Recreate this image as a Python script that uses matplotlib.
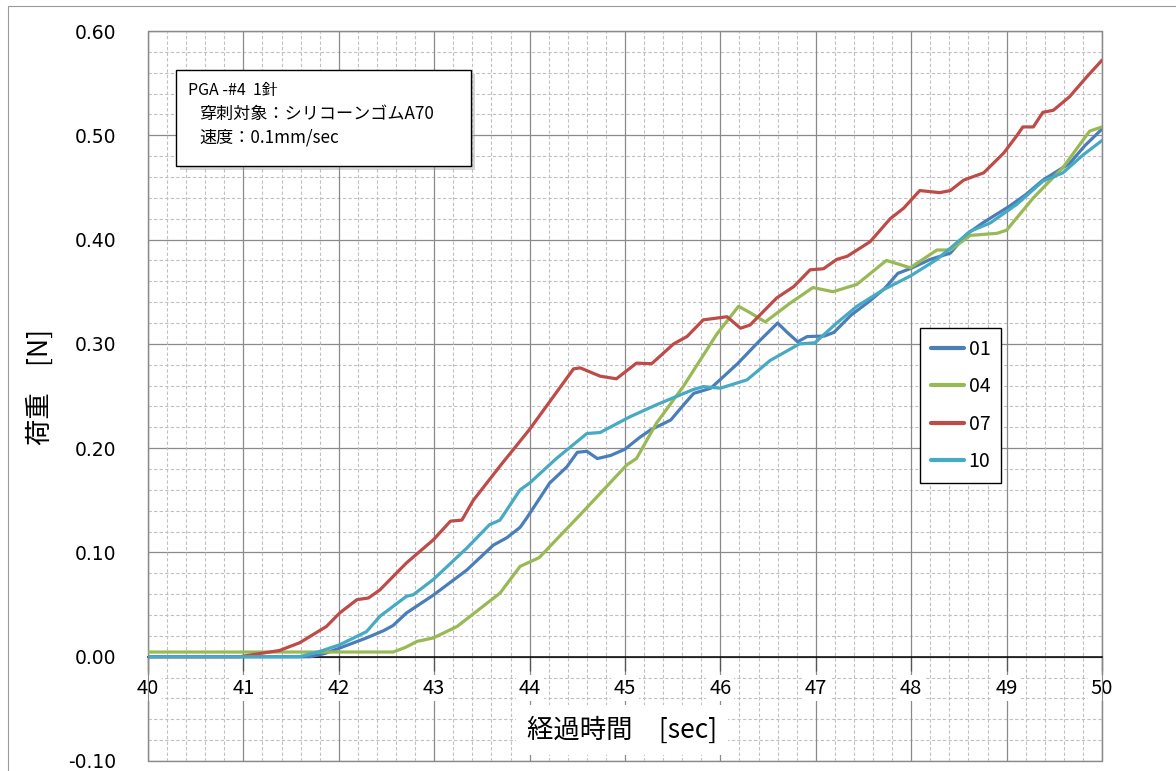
import matplotlib
matplotlib.use("Agg")
import matplotlib.pyplot as plt
from matplotlib.patches import Rectangle
from matplotlib.ticker import MultipleLocator

plt.rcParams['font.family'] = ['Noto Sans CJK JP', 'DejaVu Sans']

# --- data ---
t_01 = [40.0, 41.7, 41.85, 42.0, 42.29, 42.47, 42.57, 42.71, 42.99, 43.34, 43.62, 43.76,
        43.9, 43.97, 44.21, 44.39, 44.5, 44.6, 44.71, 44.85, 45.0, 45.15, 45.27, 45.48,
        45.6, 45.72, 45.9, 46.18, 46.4, 46.6, 46.7, 46.81, 46.91, 47.09, 47.19, 47.37,
        47.55, 47.72, 47.86, 48.0, 48.2, 48.41, 48.58, 48.75, 49.03, 49.2, 49.38, 49.66,
        49.82, 50.0]
v_01 = [0.0, 0.0, 0.003, 0.008, 0.018, 0.025, 0.030, 0.042, 0.059, 0.083, 0.107, 0.114,
        0.124, 0.133, 0.1665, 0.182, 0.196, 0.197, 0.190, 0.193, 0.199, 0.210, 0.2176, 0.227,
        0.240, 0.2525, 0.2575, 0.281, 0.302, 0.320, 0.311, 0.302, 0.307, 0.3075, 0.311, 0.3276,
        0.340, 0.353, 0.3676, 0.3725, 0.381, 0.387, 0.405, 0.416, 0.432, 0.443, 0.457, 0.473,
        0.490, 0.506]

t_04 = [40.0, 42.57, 42.7, 42.82, 42.99, 43.24, 43.69, 43.9, 44.1, 44.56, 45.02, 45.12,
        45.33, 45.61, 45.96, 46.19, 46.31, 46.47, 46.73, 46.97, 47.18, 47.43, 47.74, 47.99,
        48.27, 48.41, 48.62, 48.9, 49.0, 49.28, 49.59, 49.87, 50.0]
v_04 = [0.0045, 0.0045, 0.009, 0.0147, 0.018, 0.029, 0.061, 0.0866, 0.095, 0.139, 0.184, 0.190,
        0.224, 0.259, 0.309, 0.336, 0.330, 0.321, 0.339, 0.354, 0.350, 0.357, 0.380, 0.373,
        0.390, 0.390, 0.404, 0.406, 0.409, 0.440, 0.469, 0.504, 0.508]

t_07 = [40.0, 40.96, 41.17, 41.38, 41.59, 41.87, 42.01, 42.19, 42.31, 42.43, 42.71, 42.99,
        43.17, 43.29, 43.41, 43.7, 44.0, 44.46, 44.53, 44.74, 44.91, 45.12, 45.28, 45.51,
        45.65, 45.82, 46.07, 46.21, 46.31, 46.59, 46.77, 46.94, 47.08, 47.22, 47.33, 47.57,
        47.78, 47.92, 48.09, 48.3, 48.41, 48.55, 48.76, 48.97, 49.11, 49.17, 49.28, 49.38,
        49.49, 49.66, 49.84, 50.0]
v_07 = [0.0, 0.0, 0.003, 0.006, 0.0134, 0.029, 0.042, 0.0547, 0.0563, 0.064, 0.090, 0.112,
        0.130, 0.131, 0.150, 0.184, 0.218, 0.276, 0.277, 0.269, 0.2665, 0.2815, 0.281, 0.300,
        0.307, 0.323, 0.326, 0.315, 0.318, 0.344, 0.355, 0.371, 0.372, 0.381, 0.384, 0.398,
        0.420, 0.430, 0.447, 0.445, 0.447, 0.457, 0.464, 0.483, 0.500, 0.508, 0.508, 0.522,
        0.524, 0.537, 0.556, 0.572]

t_10 = [40.0, 41.59, 41.8, 42.01, 42.29, 42.43, 42.71, 42.78, 42.99, 43.34, 43.58, 43.69,
        43.9, 44.0, 44.28, 44.6, 44.74, 45.05, 45.33, 45.71, 45.82, 46.0, 46.28, 46.52,
        46.83, 46.99, 47.22, 47.43, 47.71, 47.99, 48.27, 48.62, 48.83, 49.11, 49.38, 49.59,
        49.8, 50.0]
v_10 = [0.0, 0.0, 0.005, 0.0115, 0.024, 0.0387, 0.058, 0.0594, 0.074, 0.104, 0.1266, 0.131,
        0.160, 0.1665, 0.190, 0.214, 0.215, 0.230, 0.2416, 0.256, 0.259, 0.2575, 0.2655, 0.284,
        0.300, 0.301, 0.320, 0.336, 0.352, 0.365, 0.381, 0.408, 0.416, 0.434, 0.456, 0.464,
        0.481, 0.495]

series_names = ['01', '04', '07', '10']
series_colors = ['#4A7EBB', '#98B954', '#BE4B48', '#46AAC5']

x_ticks = [40, 41, 42, 43, 44, 45, 46, 47, 48, 49, 50]
y_ticks = [-0.10, 0.00, 0.10, 0.20, 0.30, 0.40, 0.50, 0.60]
y_ticklabels = ['-0.10', '0.00', '0.10', '0.20', '0.30', '0.40', '0.50', '0.60']

note_lines = ['PGA -#4  1針', '穿刺対象：シリコーンゴムA70', '速度：0.1mm/sec']

W, H = 1176, 771
fig = plt.figure(figsize=(W / 100, H / 100), dpi=100)
ax = fig.add_axes([148 / W, 1 - 761 / H, 954 / W, 730 / H])

for t, v, name, c in zip([t_01, t_04, t_07, t_10], [v_01, v_04, v_07, v_10],
                         series_names, series_colors):
    ax.plot(t, v, color=c, lw=2.3, label=name, solid_joinstyle='round',
            solid_capstyle='round', zorder=3)

ax.set_xlim(40, 50)
ax.set_ylim(-0.10, 0.60)
ax.set_xticks(x_ticks)
ax.set_yticks(y_ticks)
ax.set_yticklabels(y_ticklabels, fontfamily='DejaVu Sans', fontsize=13.5)
ax.xaxis.set_minor_locator(MultipleLocator(0.2))
ax.yaxis.set_minor_locator(MultipleLocator(0.02))

ax.grid(which='major', color='#8a8a8a', lw=0.9, ls='-')
ax.grid(which='minor', color='#c0c0c0', lw=0.8, ls=(0, (3, 2)))
ax.tick_params(which='minor', length=0)
ax.tick_params(axis='y', which='major', length=0, pad=23)
ax.tick_params(axis='x', which='major', length=10, width=0.9, color='#555555',
               direction='out', pad=5, labelsize=14.5)

# x axis sits on y = 0, plot frame drawn separately
ax.spines['bottom'].set_position(('data', 0))
ax.spines['bottom'].set_color('black')
ax.spines['bottom'].set_linewidth(1.1)
for s in ['left', 'right', 'top']:
    ax.spines[s].set_color('#8a8a8a')
ax.add_patch(Rectangle((0, 0), 1, 1, transform=ax.transAxes, fill=False,
                       edgecolor='#8a8a8a', lw=1.0, clip_on=False, zorder=1))

ax.yaxis.set_zorder(1.0)
ax.xaxis.set_zorder(1.6)

for lbl in ax.get_xticklabels():
    lbl.set_bbox(dict(facecolor='white', edgecolor='none', pad=2))

ax.set_xlabel('経過時間　[sec]', fontsize=19,
              bbox=dict(facecolor='white', edgecolor='none', pad=8))
ax.xaxis.set_label_coords((622 - 148) / 954, (761 - 730) / 730)
ax.xaxis.label.set_va('center')

ax.set_ylabel('荷重　[N]', fontsize=19)
ax.yaxis.set_label_coords((40 - 148) / 954, (761 - 387) / 730)
ax.yaxis.label.set_va('center')

leg = ax.legend(loc='upper left', bbox_to_anchor=(920 / W, 1 - 328 / H),
                bbox_transform=fig.transFigure, fontsize=14, frameon=True,
                fancybox=False, framealpha=1, edgecolor='black', borderaxespad=0,
                handlelength=1.7, handletextpad=0.25, labelspacing=0.85, borderpad=0.55)
leg.get_frame().set_linewidth(1.0)
for line in leg.get_lines():
    line.set_linewidth(3)

# note box with shadow
bx, by, bw, bh = 176, 70, 295, 96
fig.add_artist(Rectangle(((bx + 4) / W, 1 - (by + bh + 4) / H), bw / W, bh / H,
                         transform=fig.transFigure, facecolor='#999999', alpha=0.4,
                         edgecolor='none', zorder=5))
fig.add_artist(Rectangle((bx / W, 1 - (by + bh) / H), bw / W, bh / H,
                         transform=fig.transFigure, facecolor='white',
                         edgecolor='black', lw=1.0, zorder=6))
fig.text(188 / W, 1 - 90 / H, note_lines[0], fontsize=11.5, va='center', zorder=7)
fig.text(199 / W, 1 - 114 / H, note_lines[1], fontsize=12.3, va='center', zorder=7)
fig.text(199 / W, 1 - 137 / H, note_lines[2], fontsize=12.3, va='center', zorder=7)

# outer chart border
fig.add_artist(Rectangle((8 / W, -0.05), 1.1, 1 - 6 / H + 0.05,
                         transform=fig.transFigure, fill=False,
                         edgecolor='#9a9a9a', lw=0.8))

fig.savefig('out.png', dpi=100)
